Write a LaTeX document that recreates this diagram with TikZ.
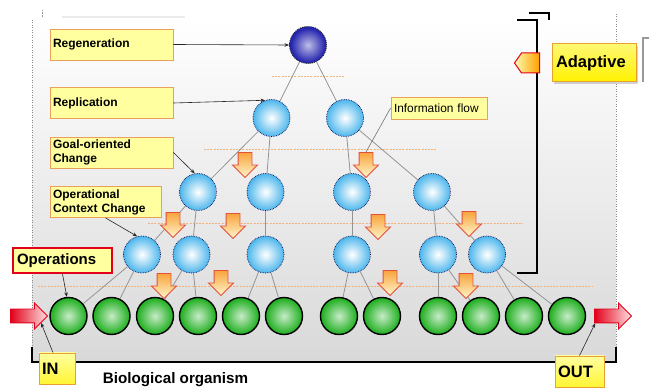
\documentclass[tikz,border=0pt]{standalone}
\usepackage{fontspec}
\setmainfont{Liberation Sans}
\usetikzlibrary{shapes.arrows,shapes.symbols,arrows.meta,shadows}

\definecolor{labelfill}{HTML}{FFFFA0}
\definecolor{labeledge}{HTML}{E8A05A}
\definecolor{ballblue}{HTML}{4CB6EC}
\definecolor{ballgreen}{HTML}{22B022}
\definecolor{ballpurple}{HTML}{2626B0}
\definecolor{flowtop}{HTML}{F8A43C}
\definecolor{flowbot}{HTML}{FFF6CC}
\definecolor{flowedge}{HTML}{E4503C}
\definecolor{levelline}{HTML}{F2B27A}
\definecolor{signalred}{HTML}{E2001A}
\definecolor{adaptfill}{HTML}{FFF200}
\definecolor{ioedge}{HTML}{E8A030}

% ball shadings: the path outline sits at 25bp
\pgfdeclareradialshading{blueball}{\pgfpoint{0bp}{0bp}}{color(0bp)=(white); color(4bp)=(white!85!ballblue); color(25bp)=(ballblue); color(50bp)=(ballblue)}
\pgfdeclareradialshading{greenball}{\pgfpoint{0bp}{0bp}}{color(0bp)=(white!75!ballgreen); color(24bp)=(ballgreen); color(50bp)=(ballgreen)}
\pgfdeclareradialshading{purpleball}{\pgfpoint{0bp}{0bp}}{color(0bp)=(white!70!ballpurple); color(23bp)=(ballpurple); color(50bp)=(ballpurple)}

\begin{document}
\begin{tikzpicture}[x=1pt,y=-1pt,
  lbl/.style={draw=labeledge, fill=labelfill, line width=0.8pt, inner xsep=3pt, inner ysep=0pt,
    align=left, font=\bfseries\fontsize{12}{14}\selectfont, minimum height=31pt, text width=#1},
  opslbl/.style={draw=signalred, fill=labelfill, line width=1.8pt, inner xsep=4pt, inner ysep=0pt,
    align=left, font=\bfseries\fontsize{15}{18}\selectfont, minimum height=25pt, text width=91pt},
  iolbl/.style={draw=ioedge, line width=0.9pt, top color=labelfill, bottom color=adaptfill!80,
    inner xsep=3pt, inner ysep=0pt, align=left, font=\bfseries\fontsize{16.5}{19}\selectfont,
    minimum height=31pt, text width=#1},
  infolbl/.style={draw=labeledge, fill=labelfill, line width=0.8pt, inner xsep=3pt, inner ysep=0pt,
    align=left, font=\fontsize{11.9}{14}\selectfont, minimum height=22pt, text width=90pt},
  adaptlbl/.style={draw=ioedge, line width=1pt, top color=adaptfill!55, bottom color=adaptfill,
    drop shadow={shadow xshift=2pt, shadow yshift=-2pt, opacity=0.35},
    inner xsep=4pt, inner ysep=0pt, align=left, font=\bfseries\fontsize{16.5}{19}\selectfont,
    minimum height=38pt, text width=76pt},
  topball/.style={circle, minimum size=37pt, inner sep=0pt, draw=black!85, densely dotted,
    line width=0.9pt, shade, shading=purpleball},
  ball/.style={circle, minimum size=37pt, inner sep=0pt, draw=black!70!blue, densely dotted,
    line width=0.7pt, shade, shading=blueball},
  cell/.style={circle, minimum size=37pt, inner sep=0pt, draw=black, line width=1.4pt,
    shade, shading=greenball},
  link/.style={draw=black!42, line width=0.8pt},
  note/.style={-{Stealth[length=4.5pt,width=3.5pt]}, line width=0.6pt, black!85},
  level/.style={draw=levelline, dash pattern=on 2pt off 1.2pt, line width=0.8pt},
  flow/.style={single arrow, shape border rotate=270, single arrow head extend=5.5pt,
    minimum height=25pt, minimum width=24pt, inner sep=6.5pt, draw=flowedge, line width=0.9pt,
    top color=flowtop, bottom color=flowbot},
  iofeed/.style={single arrow, single arrow head extend=6pt, minimum height=37pt,
    minimum width=25pt, inner sep=6.5pt, draw=signalred, line width=0.8pt,
    left color=signalred, right color=red!12},
  bracket/.style={line width=1.4pt, black}
]
\useasboundingbox (0,0) rectangle (649,390);

% organism panel
\shade[top color=white, bottom color=black!15] (32,18) rectangle (616,362);
\draw[black!45, dotted, line width=0.5pt] (32,20) -- (32,348);
\draw[black!45, dotted, line width=0.5pt] (616,14) -- (616,347);
\draw[black!8, line width=1.2pt] (62,17) -- (185,17);
\draw[black!40, densely dotted, line width=0.6pt] (42,10) -- (42,18);
\draw[bracket] (32,347) -- (32,362) -- (616,362) -- (616,347);

% adaptive bracket
\draw[bracket] (517,20) -- (537,20) -- (537,273) -- (517,273);
\draw[bracket] (529,13) -- (549,13) -- (549,20);
\draw[black!40, line width=2pt] (649,38) -- (643,38) -- (643,82);

% level separators
\draw[level] (272,76) -- (345,76);
\draw[level] (204,149) -- (437,149);
\draw[level] (148,223) -- (523,223);
\draw[level] (38,286) -- (593,286);

% hierarchy
\node[topball] (b0) at (308,45) {};
\node[ball] (b1) at (271.5,118) {};
\node[ball] (b2) at (345,118) {};
\node[ball] (c1) at (198,192) {};
\node[ball] (c2) at (265.5,192) {};
\node[ball] (c3) at (352,192) {};
\node[ball] (c4) at (432,192) {};
\node[ball] (d1) at (142,254.5) {};
\node[ball] (d2) at (191.5,254.5) {};
\node[ball] (d3) at (265.5,254.5) {};
\node[ball] (d4) at (352,254.5) {};
\node[ball] (d5) at (438,254.5) {};
\node[ball] (d6) at (487,254.5) {};
\foreach \x [count=\i] in {68.5,111.5,155,198,241,284,339,382,438,481,524,567}
  \node[cell] (g\i) at (\x,316) {};

\foreach \a/\b in {b0/b1,b0/b2,b1/c1,b1/c2,b2/c3,b2/c4,c1/d1,c1/d2,c2/d3,c3/d4,c4/d5,c4/d6,
    d1/g1,d1/g2,d2/g3,d2/g4,d3/g5,d3/g6,d4/g7,d4/g8,d5/g9,d5/g10,d6/g11,d6/g12}
  \draw[link] (\a) -- (\b);

% information flow arrows
\node[flow] (fa1) at (245,161.5) {};
\node[flow] (fa2) at (366,161.5) {};
\node[flow] (fa3) at (173,221.5) {};
\node[flow] (fa4) at (233,222.5) {};
\node[flow] (fa5) at (378,223.5) {};
\node[flow] (fa6) at (469,220.5) {};
\node[flow] (fa7) at (164,282.5) {};
\node[flow] (fa8) at (221,279.5) {};
\node[flow] (fa9) at (390,279.5) {};
\node[flow] (fa10) at (466,282.5) {};

% input and output
\node[iofeed] (inarr) at (25.5,316) {};
\node[iofeed] (outarr) at (609.5,316) {};

% labels
\node[lbl=117pt] (regen) at (111.5,44.5) {Regeneration};
\node[lbl=117pt] (repl) at (111.5,103) {Replication};
\node[lbl=117pt] (goal) at (111.5,152.5) {Goal-oriented\\Change};
\node[lbl=105pt] (opc) at (105.5,202) {Operational\\Context Change};
\node[opslbl] (ops) at (62.5,260.5) {Operations};
\node[iolbl=30pt] (inlbl) at (57,368.5) {IN};
\node[iolbl=43pt] (outlbl) at (579.5,371.5) {OUT};
\node[infolbl] (info) at (439,108) {Information flow};
\node[adaptlbl] (adapt) at (594,63) {Adaptive};
\node[signal, signal to=west, signal pointer angle=110, minimum width=25pt, minimum height=20pt,
  inner sep=0pt, draw=signalred, line width=1pt, left color=adaptfill!30, right color=orange!75!yellow]
  (tag) at (530.5,63) {};
\node[font=\bfseries\fontsize{15.2}{18}\selectfont] (bio) at (175.5,380) {Biological organism};

% pointers
\draw[note] (regen.east) -- (b0.west);
\draw[note] (repl.east) -- (b1.110);
\draw[note] (goal.east) -- (c1.100);
\draw[note] (opc.south) -- (d1.105);
\draw[note] (ops.south) -- (g1.95);
\draw[note] ([xshift=-4pt]inlbl.north) -- (inarr.-24);
\draw[note] (outlbl.north) -- (outarr.207);
\draw[black!55, line width=0.6pt] (info.west) -- (fa2.tail);
\end{tikzpicture}
\end{document}
